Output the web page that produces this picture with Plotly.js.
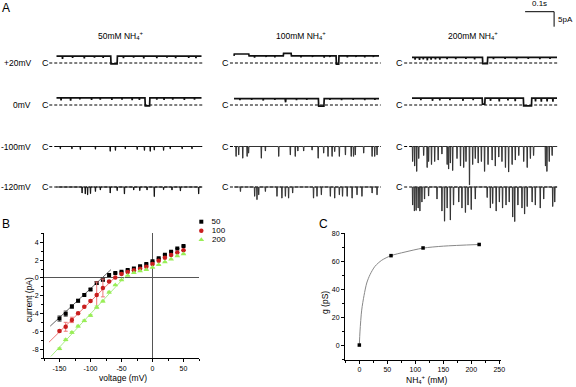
<!DOCTYPE html>
<html><head><meta charset="utf-8">
<script src="https://cdn.plot.ly/plotly-3.0.1.min.js"></script>
<style>html,body{margin:0;padding:0;background:#fff}#chart{width:576px;height:387px}</style>
</head><body><div id="chart"></div>
<script>
// ================= DATA =================
// Panel A: single-channel recordings (time in ms, current in pA)
const concLabels = ['50mM NH<sub>4</sub><sup>+</sup>', '100mM NH<sub>4</sub><sup>+</sup>', '200mM NH<sub>4</sub><sup>+</sup>'];
const voltageLabels = ['+20mV', '0mV', '-100mV', '-120mV'];
const openP20 = [2.3, 2.4, 1.9];   // open level at +20 mV (pA)
const openZero = [2.4, 2.1, 2.3];  // open level at 0 mV (pA)
// events: [start ms, duration ms, level pA]
const ev50P20 = [[20,1.5,1.6],[55,1.5,1.7],[95,1.5,1.5],[130,1.5,1.8],[160,1.5,1.7],[187,23,-0.3],[230,1.5,1.6],[265,1.5,1.8],[300,1.5,1.5],[345,1.5,1.6],[380,1.5,1.8],[410,1.5,1.6],[455,1.5,1.7],[480,1.5,1.6]];
const ev100P20 = [[0,52,3.0],[70,1.5,1.8],[110,1.5,2.0],[140,1.5,1.9],[170,28,3.2],[230,1.5,1.9],[270,1.5,2.0],[310,1.5,1.8],[330,1.5,2.0],[352,10,-0.4],[390,1.5,1.9],[420,1.5,2.0],[450,1.5,1.9],[480,1.5,2.0]];
const ev200P20 = [[10,1.5,1.1],[25,1.5,1.0],[38,1.5,1.2],[52,1.5,0.9],[65,1.5,1.1],[80,1.5,1.2],[95,1.5,1.1],[120,1.5,1.3],[150,1.5,1.3],[185,1.5,1.4],[215,1.5,1.2],[243,18,-0.2],[280,1.5,1.3],[320,1.5,1.4],[360,1.5,1.3],[400,1.5,1.4],[440,1.5,1.3],[475,1.5,1.4]];
const ev50Zero = [[15,1.5,1.8],[48,1.5,1.7],[80,1.5,1.9],[120,1.5,1.7],[150,1.5,1.8],[190,1.5,1.7],[225,1.5,1.8],[260,1.5,1.6],[285,1.5,1.7],[305,17,-0.3],[345,1.5,1.8],[370,1.5,1.7],[400,1.5,1.8],[440,1.5,1.7],[475,1.5,1.8]];
const ev100Zero = [[20,1.5,1.6],[60,1.5,1.7],[100,1.5,1.5],[140,1.5,1.7],[176,3,0.9],[215,1.5,1.6],[250,1.5,1.7],[291,20,-0.4],[330,1.5,1.7],[370,1.5,1.6],[410,1.5,1.7],[450,1.5,1.6],[485,1.5,1.7]];
const ev200Zero = [[30,1.5,1.6],[70,1.5,1.4],[95,1.5,1.5],[130,1.5,1.6],[175,1.5,1.4],[210,1.5,1.6],[242,10,0.3],[270,1.5,1.4],[300,1.5,1.2],[330,1.5,1.5],[355,1.5,1.3],[384,29,-0.3],[425,1.5,1.2],[445,1.5,1.1],[465,1.5,1.2],[485,1.5,1.1]];
// brief openings at negative potentials: [time ms, amplitude pA (downward)]
const sp50M100 = [[12,0.8],[52,0.8],[81,1.0],[133,0.9],[184,1.6],[202,1.3],[236,0.8],[277,1.0],[302,1.3],[322,1.6],[336,1.2],[368,1.3],[391,0.8],[432,0.8],[466,0.8]];
const sp100M100 = [[6,3.3],[15,2.8],[29,3.9],[44,3.3],[49,2.2],[93,3.9],[107,1.5],[153,3.3],[193,2.8],[210,3.3],[219,1.5],[239,1.5],[268,1.2],[289,3.9],[308,2.2],[323,3.3],[337,3.3],[346,1.7],[362,3.3],[383,2.8],[403,3.3],[411,3.3],[417,2.8],[446,2.2],[475,3.3],[484,3.3],[492,2.8]];
const sp200M100 = [[1,5.0],[8,6.5],[15,8.3],[22,4.0],[39,3.0],[51,7.0],[56,5.0],[66,6.0],[77,5.0],[89,4.5],[102,2.5],[120,6.0],[125,7.5],[131,5.5],[139,8.0],[154,4.0],[166,6.5],[177,7.0],[185,5.0],[197,12.8],[208,6.0],[217,4.0],[227,5.5],[238,5.0],[249,8.3],[261,6.0],[275,4.5],[286,6.5],[298,3.5],[309,5.0],[321,7.0],[332,8.5],[344,6.0],[355,4.5],[367,3.0],[384,5.0],[396,7.0],[407,4.0],[418,3.0],[459,6.5],[464,8.3],[472,5.0],[482,3.0]];
const sp50M120 = [[87,2.0],[98,2.3],[106,2.6],[116,2.2],[133,1.5],[150,1.0],[184,2.0],[208,1.2],[233,2.3],[265,1.0],[286,1.2],[311,1.0],[336,3.2],[368,0.9],[397,1.0],[426,1.3],[489,2.3]];
const sp100M120 = [[21,1.5],[70,3.1],[78,4.2],[84,2.6],[107,1.5],[147,3.1],[164,3.7],[176,3.1],[187,3.7],[201,2.0],[273,3.7],[285,3.1],[300,2.6],[331,3.1],[346,3.7],[362,2.6],[373,3.1],[389,3.1],[406,3.7],[423,2.6],[440,3.1],[475,2.0],[492,2.6]];
const sp200M120 = [[1,6.0],[7,8.0],[13,7.8],[20,7.0],[26,8.0],[33,5.0],[42,4.0],[56,3.0],[85,4.0],[102,8.0],[111,11.4],[120,7.0],[131,11.0],[142,6.0],[160,5.0],[171,7.0],[183,8.5],[192,6.0],[203,7.5],[217,4.0],[258,3.5],[269,7.0],[277,5.5],[289,8.0],[300,5.0],[311,7.0],[323,6.0],[334,5.0],[346,10.0],[353,11.5],[364,6.0],[378,7.0],[387,9.0],[396,6.5],[413,5.0],[424,6.0],[441,7.0],[453,4.0],[484,6.5],[491,5.0]];

// Panel B: I-V relations
const voltage = [-150,-140,-130,-120,-110,-100,-90,-80,-70,-60,-50,-40,-30,-20,-10,0,10,20,30,40,50];
const cur50  = [-4.55,-4.0,-3.2,-2.55,-1.9,-1.3,-0.56,-0.19,0.34,0.55,0.7,0.88,1.07,1.3,1.56,1.86,2.2,2.6,2.94,3.3,3.57];
const cur100 = [-5.95,-5.47,-4.7,-3.95,-3.24,-2.57,-1.9,-1.12,-0.4,0.05,0.45,0.67,0.85,1.04,1.26,1.56,1.93,2.27,2.57,2.86,3.1];
const cur200 = [-7.93,-6.93,-6.1,-5.4,-4.8,-4.2,-3.28,-2.6,-1.6,-0.79,-0.23,0.26,0.59,0.77,0.92,1.18,1.49,1.79,2.1,2.45,2.68];
const err50  = [0.3,0.3,0.2,0.15,0.1,0.1,0.15,0.15,0.1,0,0,0,0,0,0,0,0,0,0,0,0];
const err100 = [0.1,0.5,0.3,0.1,0.1,0.1,1.45,1.0,0.1,0,0,0,0,0,0,0,0,0,0,0,0];
const err200 = [0.1,0.1,0.1,0.1,0.1,0.1,0.15,0.1,0.1,0,0,0,0,0,0,0,0,0,0,0,0];
const fit50V = [-165, -67],  fit50I = [-5.4, 0.93];
const fit100V = [-167, -60], fit100I = [-7.2, 0.1];
const fit200V = [-164, -44], fit200I = [-8.8, 0.15];
const seriesNames = ['50', '100', '200'];

// Panel C: conductance vs NH4+
const nh4 = [0, 56.6, 113.8, 214];
const gPS = [0, 64, 69.5, 72];
const fitNH4 = [0, 1.2, 4.2, 8.4, 13.2, 19.1, 28, 40, 56.6, 81.6, 113.8, 150, 214];
const fitG   = [0, 10, 25, 35.5, 44.4, 50.4, 56.4, 60.7, 64, 66.6, 69.4, 70.8, 72];

// ================= LAYOUT GEOMETRY =================
const W = 576, H = 387;
const FONT = '"Liberation Sans", Arial, Helvetica, sans-serif';
const px = p => p / W;
const py = p => 1 - p / H;
const colT0 = [56.5, 234, 412];     // pixel of t=0 for each column
const colDash0 = [-25, -14, -27];   // ms, start of dashed closed line
const colC = [45, 225, 399];        // pixel x of "C" labels
const pxPerSec = 290;
const rowZero = [63, 105, 146.5, 187];
const pxPerPA = 3;
const tLo = -0.045, tHi = 0.52, iLo = -15, iHi = 5;

const layout = {
  width: W, height: H, margin: {l:0, r:0, t:0, b:0},
  paper_bgcolor: '#fff', plot_bgcolor: 'rgba(0,0,0,0)',
  showlegend: false,
  font: {family: FONT, size: 8, color: '#000'},
  annotations: [], shapes: []
};
const xa = ['x','x2','x3'], ya = ['y','y2','y3','y4'];
const xaKey = ['xaxis','xaxis2','xaxis3'], yaKey = ['yaxis','yaxis2','yaxis3','yaxis4'];
for (let c = 0; c < 3; c++) {
  layout[xaKey[c]] = {visible:false, range:[tLo,tHi], fixedrange:true,
    domain:[px(colT0[c] + tLo*pxPerSec), px(colT0[c] + tHi*pxPerSec)], anchor:'y'};
}
for (let r = 0; r < 4; r++) {
  layout[yaKey[r]] = {visible:false, range:[iLo,iHi], fixedrange:true,
    domain:[py(rowZero[r] - iLo*pxPerPA), py(rowZero[r] - iHi*pxPerPA)], anchor:'x'};
}

function buildPath(base, events) {
  const x = [0], y = [base];
  events.forEach(([t, d, l]) => {
    const r = Math.min(1, d/3);
    x.push(t/1000, (t+r)/1000, (t+d-r)/1000, (t+d)/1000);
    y.push(base, l, l, base);
  });
  x.push(0.5); y.push(base);
  return {x, y};
}
const spikes = arr => arr.map(([t, a]) => [t, 2.5, -a]);
const traceDefs = [
  [[openP20[0], ev50P20], [openP20[1], ev100P20], [openP20[2], ev200P20]],
  [[openZero[0], ev50Zero], [openZero[1], ev100Zero], [openZero[2], ev200Zero]],
  [[0, spikes(sp50M100)], [0, spikes(sp100M100)], [0, spikes(sp200M100)]],
  [[0, spikes(sp50M120)], [0, spikes(sp100M120)], [0, spikes(sp200M120)]]
];
const data = [];
for (let r = 0; r < 4; r++) {
  for (let c = 0; c < 3; c++) {
    data.push({x:[colDash0[c]/1000, 0.506], y:[0,0], xaxis:xa[c], yaxis:ya[r], mode:'lines',
      line:{color:'#000', width:1, dash:'3px,2px'}, hoverinfo:'skip'});
    const p = buildPath(traceDefs[r][c][0], traceDefs[r][c][1]);
    data.push({x:p.x, y:p.y, xaxis:xa[c], yaxis:ya[r], mode:'lines',
      line:{color: r >= 2 && c > 0 ? '#333' : '#111', width: r < 2 ? 1.7 : 1.0}, hoverinfo:'skip'});
    layout.annotations.push({xref:'paper', yref:'paper', x:px(colC[c]), y:py(rowZero[r]), text:'C',
      showarrow:false, xanchor:'center', yanchor:'middle', font:{size:9}});
  }
  layout.annotations.push({xref:'paper', yref:'paper', x:px(33), y:py(rowZero[r]), text:voltageLabels[r],
    showarrow:false, xanchor:'right', yanchor:'middle', font:{size:8.5}});
}
const headerX = [121, 301, 473];
for (let c = 0; c < 3; c++) {
  layout.annotations.push({xref:'paper', yref:'paper', x:px(headerX[c]), y:py(36), text:concLabels[c],
    showarrow:false, xanchor:'center', yanchor:'middle', font:{size:8.5}});
}
// scale bar: 0.1 s and 5 pA
const sbX1 = colT0[2] + 0.49*pxPerSec, sbX0 = sbX1 - 0.1*pxPerSec, sbY0 = 11.7, sbY1 = sbY0 + 5*pxPerPA;
layout.shapes.push({type:'line', xref:'paper', yref:'paper', x0:px(sbX0), x1:px(sbX1), y0:py(sbY0), y1:py(sbY0), line:{color:'#000', width:1}});
layout.shapes.push({type:'line', xref:'paper', yref:'paper', x0:px(sbX1), x1:px(sbX1), y0:py(sbY0), y1:py(sbY1), line:{color:'#000', width:1}});
layout.annotations.push({xref:'paper', yref:'paper', x:px((sbX0+sbX1)/2), y:py(sbY0-1.5), text:'0.1s', showarrow:false, xanchor:'center', yanchor:'bottom', font:{size:8}});
layout.annotations.push({xref:'paper', yref:'paper', x:px(sbX1+2), y:py((sbY0+sbY1)/2), text:'5pA', showarrow:false, xanchor:'left', yanchor:'middle', font:{size:8}});

// ---- Panel B ----
const axStyle = {showline:true, linecolor:'#000', linewidth:1, ticks:'outside', ticklen:3, tickwidth:1, tickcolor:'#000',
  showgrid:false, fixedrange:true, tickfont:{size:7, family:FONT}};
layout.xaxis4 = Object.assign({}, axStyle, {domain:[px(44), px(199)], range:[-175,75], anchor:'y5',
  tickvals:[-150,-100,-50,0,50], ticktext:['-150','-100','-50','0','50'],
  minor:{dtick:25, ticklen:2, tickcolor:'#000', ticks:'outside'},
  zeroline:true, zerolinecolor:'#555', zerolinewidth:1});
layout.yaxis5 = Object.assign({}, axStyle, {domain:[py(358.3), py(233.3)], range:[-9,5], anchor:'x4',
  tickvals:[-8,-6,-4,-2,0,2,4], ticktext:['-8','-6','-4','-2','0','2','4'],
  minor:{dtick:1, ticklen:2, tickcolor:'#000', ticks:'outside'},
  zeroline:true, zerolinecolor:'#555', zerolinewidth:1});
const colB = ['#000000', '#c81e1e', '#99ee55'];
const fitCol = ['#666666', '#ee7777', '#aaee88'];
const sym = ['square', 'circle', 'triangle-up'];
const symSize = [4, 4.5, 5];
[[fit50V, fit50I], [fit100V, fit100I], [fit200V, fit200I]].forEach(([v, i], k) => {
  data.push({x:v, y:i, xaxis:'x4', yaxis:'y5', mode:'lines', line:{color:fitCol[k], width:1}, hoverinfo:'skip'});
});
[[cur50, err50], [cur100, err100], [cur200, err200]].forEach(([cur, err], k) => {
  data.push({x:voltage, y:cur, xaxis:'x4', yaxis:'y5', mode:'markers', name:seriesNames[k],
    marker:{symbol:sym[k], size:symSize[k], color:colB[k]},
    error_y:{type:'data', array:err, visible:true, color:fitCol[k], thickness:1, width:2}});
});
// legend for B (own small axes)
layout.xaxis6 = {visible:false, domain:[px(197), px(240)], range:[0,1], anchor:'y7', fixedrange:true};
layout.yaxis7 = {visible:false, domain:[py(244.2), py(217.2)], type:'category', categoryorder:'array',
  categoryarray:seriesNames, range:[2.5,-0.5], anchor:'x6', fixedrange:true};
seriesNames.forEach((n, k) => {
  data.push({x:[0.1], y:[n], xaxis:'x6', yaxis:'y7', mode:'markers+text', text:['   ' + n], textposition:'middle right',
    textfont:{size:8, family:FONT}, cliponaxis:false,
    marker:{symbol:sym[k], size:symSize[k], color:colB[k]}, hoverinfo:'skip'});
});

// ---- Panel C ----
layout.xaxis5 = Object.assign({}, axStyle, {domain:[px(345), px(501)], range:[-25.6,253], anchor:'y6',
  tickvals:[0,50,100,150,200,250], minor:{dtick:25, ticklen:2, tickcolor:'#000', ticks:'outside'}, zeroline:false});
layout.yaxis6 = Object.assign({}, axStyle, {domain:[py(360), py(233.3)], range:[-10.7,80], anchor:'x5',
  tickvals:[0,20,40,60,80], minor:{dtick:10, ticklen:2, tickcolor:'#000', ticks:'outside'}, zeroline:false});
data.push({x:fitNH4, y:fitG, xaxis:'x5', yaxis:'y6', mode:'lines', line:{color:'#888', width:1, shape:'spline', smoothing:0.8}, hoverinfo:'skip'});
data.push({x:nh4, y:gPS, xaxis:'x5', yaxis:'y6', mode:'markers', marker:{symbol:'square', size:3.5, color:'#000'}, cliponaxis:false});

// axis titles and panel letters
const ann = (x, y, text, opts) => layout.annotations.push(Object.assign({xref:'paper', yref:'paper', x:px(x), y:py(y), text,
  showarrow:false, xanchor:'center', yanchor:'middle', font:{size:8.5}}, opts || {}));
ann(123, 378, 'voltage (mV)');
ann(29, 300, 'current (pA)', {textangle:-90});
ann(426, 379, 'NH<sub>4</sub><sup>+</sup> (mM)', {yanchor:'middle'});
ann(325, 303, 'g (pS)', {textangle:-90});
ann(6, 8, 'A', {font:{size:12}});
ann(6, 224, 'B', {font:{size:12}});
ann(323, 224, 'C', {font:{size:12}});

Plotly.newPlot('chart', data, layout, {staticPlot:true, displayModeBar:false});
</script>
</body></html>
